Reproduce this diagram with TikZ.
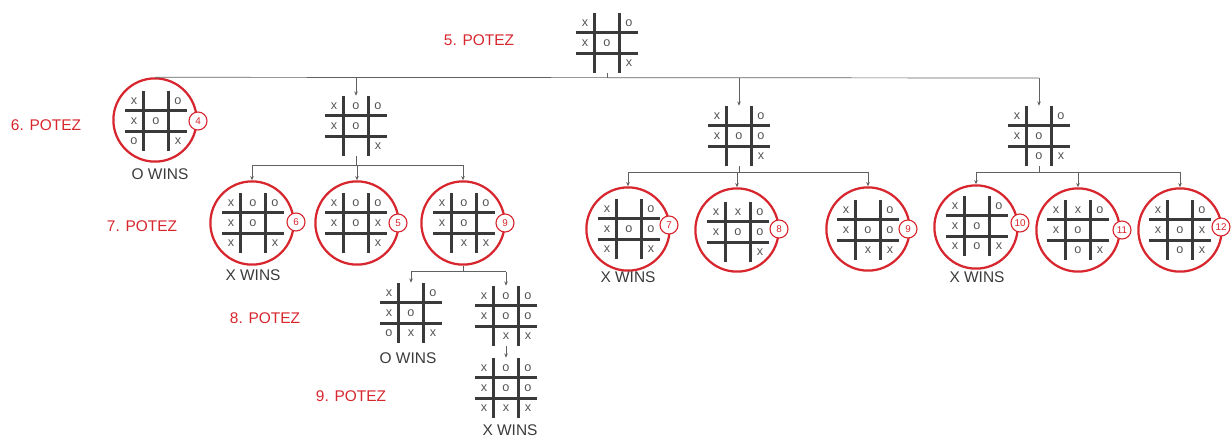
\documentclass[tikz,border=0pt]{standalone}
\usepackage{fontspec}
\setmainfont{Liberation Sans}
\usetikzlibrary{calc,arrows.meta}
\definecolor{potez}{HTML}{D7262E}
\definecolor{ink}{HTML}{3A3A3A}
\definecolor{cellgray}{HTML}{555555}

% one tic-tac-toe board: name, centre, nine cells (row by row)
\newcommand{\board}[3]{%
  \node[boardbox] (#1) at (#2) {};
  \draw[grid] ($(#1)+(-12.5,-30)$) -- ($(#1)+(-12.5,30)$);
  \draw[grid] ($(#1)+(12.5,-30)$) -- ($(#1)+(12.5,30)$);
  \draw[grid] ($(#1)+(-31,-10.5)$) -- ($(#1)+(31,-10.5)$);
  \draw[grid] ($(#1)+(-31,10.5)$) -- ($(#1)+(31,10.5)$);
  \foreach \m [count=\i from 0] in {#3} {
    \pgfmathtruncatemacro{\c}{mod(\i,3)-1}
    \pgfmathtruncatemacro{\r}{floor(\i/3)-1}
    \node[cell] (#1-\i) at ($(#1)+(22*\c,20*\r)$) {\m};
  }%
}

\begin{document}
\begin{tikzpicture}[x=0.025cm,y=-0.025cm,
  boardbox/.style={minimum width=1.55cm,minimum height=1.5cm,inner sep=0pt},
  grid/.style={draw=ink,line width=1.5pt},
  cell/.style={inner sep=0pt,text=cellgray,font=\fontsize{9}{10}\selectfont},
  wincircle/.style={circle,draw=potez,line width=1.6pt,minimum size=2.08cm,inner sep=0pt},
  badge/.style={circle,draw=potez,fill=white,line width=0.8pt,minimum size=0.45cm,inner sep=0pt,
    text=potez,font=\fontsize{7}{8}\selectfont},
  link/.style={draw=ink!80,line width=0.5pt},
  arrow/.style={link,-{Stealth[length=3pt,width=2.5pt]}},
  wins/.style={text=ink,font=\fontsize{11}{12}\selectfont},
  potezlabel/.style={text=potez,font=\fontsize{11}{12}\selectfont}]
\useasboundingbox (0,0) rectangle (1232,437);

% move labels
\node[potezlabel] (p5) at (479,40) {5. POTEZ};
\node[potezlabel] (p6) at (46,125) {6. POTEZ};
\node[potezlabel] (p7) at (142,226) {7. POTEZ};
\node[potezlabel] (p8) at (265,318) {8. POTEZ};
\node[potezlabel] (p9) at (351,396) {9. POTEZ};

% root
\board{b0}{607,43}{x, ,o, x,o, , , ,x}

% 6. potez
\node[wincircle] (c6) at (155,120) {};
\board{b1}{156,121}{x, ,o, x,o, , o, ,x}
\node[badge] (n4) at (198,121) {4};
\node[wins] (w6) at (160,174) {O WINS};
\board{b2}{356,126}{x,o,o, x,o, , , ,x}
\board{b3}{739,136}{x, ,o, x,o,o, , ,x}
\board{b4}{1039,136}{x, ,o, x,o, , ,o,x}

\coordinate (j0) at (607,78);
\draw[link] (b0.south) -- (j0);
\draw[link] (c6.north) -- (j0 -| b4);
\draw[arrow] (j0 -| b2) -- (b2.north);
\draw[arrow] (j0 -| b3) -- (b3.north);
\draw[arrow] (j0 -| b4) -- (b4.north);

% 7. potez
\node[wincircle] (c7a) at (252,223) {};
\board{b7a}{253,223}{x,o,o, x,o, , x, ,x}
\node[badge] (n7a) at (296,222) {6};
\node[wins] (w7a) at (253,275) {X WINS};
\node[wincircle] (c7b) at (357,223) {};
\board{b7b}{356,223}{x,o,o, x,o,x, , ,x}
\node[badge] (n7b) at (398,223) {5};
\node[wincircle] (c7c) at (463,223) {};
\board{b7c}{464,223}{x,o,o, x,o, , ,x,x}
\node[badge] (n7c) at (505,223) {9};

\node[wincircle] (c7d) at (628,229) {};
\board{b7d}{629,229}{x, ,o, x,o,o, x, ,x}
\node[badge] (n7d) at (669,225) {7};
\node[wins] (w7d) at (628,277) {X WINS};
\node[wincircle] (c7e) at (737,230) {};
\board{b7e}{738,232}{x,x,o, x,o,o, , ,x}
\node[badge] (n7e) at (779,229) {8};
\node[wincircle] (c7f) at (868,229) {};
\board{b7f}{868,230}{x, ,o, x,o,o, ,x,x}
\node[badge] (n7f) at (908,229) {9};

\node[wincircle] (c7g) at (976,227) {};
\board{b7g}{977,226}{x, ,o, x,o, , x,o,x}
\node[badge] (n7g) at (1020,223) {10};
\node[wins] (w7g) at (977,277) {X WINS};
\node[wincircle] (c7h) at (1078,230) {};
\board{b7h}{1078,230}{x,x,o, x,o, , ,o,x}
\node[badge] (n7h) at (1122,230) {11};
\node[wincircle] (c7i) at (1180,230) {};
\board{b7i}{1180,230}{x, ,o, x,o,x, ,o,x}
\node[badge] (n7i) at (1221,227) {12};

\draw[link] (b2.south) -- ++(0,9) coordinate (j2);
\draw[link] (j2 -| c7a) -- (j2 -| c7c);
\draw[arrow] (j2 -| c7a) -- (c7a.north);
\draw[arrow] (j2 -| c7b) -- (c7b.north);
\draw[arrow] (j2 -| c7c) -- (c7c.north);

\draw[link] (b3.south) -- ++(0,6) coordinate (j3);
\draw[link] (j3 -| c7d) -- (j3 -| c7f);
\draw[arrow] (j3 -| c7d) -- (c7d.north);
\draw[arrow] (j3 -| c7e) -- (c7e.north);
\draw[arrow] (j3 -| c7f) -- (c7f.north);

\draw[link] (b4.south) -- ++(0,6) coordinate (j4);
\draw[link] (j4 -| c7g) -- (j4 -| c7i);
\draw[arrow] (j4 -| c7g) -- (c7g.north);
\draw[arrow] (j4 -| c7h) -- (c7h.north);
\draw[arrow] (j4 -| c7i) -- (c7i.north);

% 8. and 9. potez
\board{b8a}{411,313}{x, ,o, x,o, , o,x,x}
\node[wins] (w8) at (408,358) {O WINS};
\board{b8b}{506,316}{x,o,o, x,o,o, ,x,x}
\board{b9}{506,388}{x,o,o, x,o,o, x,x,x}
\node[wins] (w9) at (510,430) {X WINS};

\draw[link] (c7c.south) -- ++(0,6) coordinate (j7);
\draw[link] (j7 -| b8a) -- (j7 -| b8b);
\draw[arrow] (j7 -| b8a) -- (b8a.north);
\draw[arrow] (j7 -| b8b) -- (b8b.north);
\draw[arrow] (b8b.south) -- (b9.north);
\end{tikzpicture}
\end{document}
